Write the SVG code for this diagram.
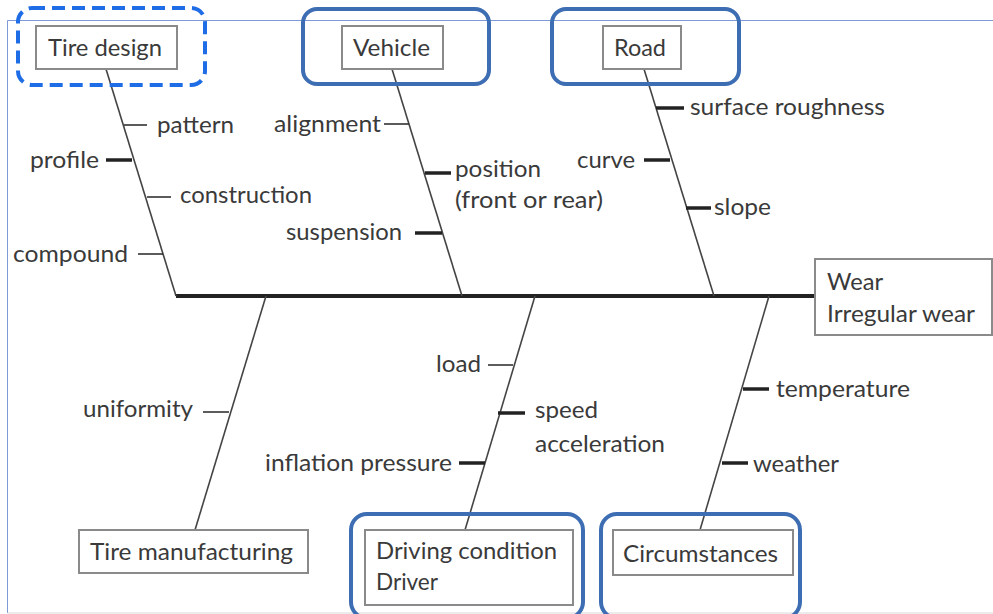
<svg xmlns="http://www.w3.org/2000/svg" width="993" height="614" viewBox="0 0 993 614">
<style>
text{font-family:Lato,"Open Sans","Liberation Sans",sans-serif;font-size:24px;fill:#3a3a3a}
.box{fill:#fff;stroke:#8a8a8a;stroke-width:2}
.hl{fill:none;stroke:#3d6db2;stroke-width:4}
.hld{fill:none;stroke:#1f6de6;stroke-width:4;stroke-dasharray:13 7}
.bone{stroke:#444;stroke-width:1.6;fill:none}
.tk{stroke:#333;stroke-width:1.6}
.tK{stroke:#222;stroke-width:3.5}
.frame{stroke:#7d9ad6;stroke-width:1;fill:none}
</style>
<rect width="993" height="614" fill="#fff"/>
<path class="frame" d="M993 20.5H7.5V613"/>
<line x1="7.5" y1="613" x2="993" y2="613" stroke="#d8d8d8" stroke-width="1"/>

<g id="connectors">
<line x1="176" y1="296" x2="815" y2="296" stroke="#222" stroke-width="4"/>
<line class="bone" x1="106" y1="69" x2="176" y2="296"/>
<line class="bone" x1="392" y1="69" x2="462" y2="296"/>
<line class="bone" x1="644" y1="69" x2="714" y2="296"/>
<line class="bone" x1="266" y1="296" x2="195" y2="530"/>
<line class="bone" x1="535" y1="296" x2="465" y2="530"/>
<line class="bone" x1="769" y1="296" x2="700" y2="530"/>
<line class="tk" x1="124" y1="125" x2="147" y2="125"/>
<line class="tK" x1="106" y1="160" x2="132" y2="160"/>
<line class="tk" x1="147" y1="197" x2="171" y2="197"/>
<line class="tk" x1="138" y1="254" x2="163" y2="254"/>
<line class="tk" x1="384" y1="124" x2="409" y2="124"/>
<line class="tK" x1="425" y1="173" x2="451" y2="173"/>
<line class="tK" x1="415" y1="233" x2="442" y2="233"/>
<line class="tK" x1="656" y1="108" x2="684" y2="108"/>
<line class="tK" x1="644" y1="160" x2="670" y2="160"/>
<line class="tK" x1="686" y1="208" x2="711" y2="208"/>
<line class="tk" x1="203" y1="412" x2="229" y2="412"/>
<line class="tk" x1="488" y1="365" x2="513" y2="365"/>
<line class="tK" x1="498" y1="413" x2="525" y2="413"/>
<line class="tK" x1="459" y1="463" x2="485" y2="463"/>
<line class="tK" x1="743" y1="389" x2="769" y2="389"/>
<line class="tK" x1="722" y1="463" x2="748" y2="463"/>
</g>

<g id="labels">
<text x="157" y="133" textLength="77" lengthAdjust="spacingAndGlyphs">pattern</text>
<text x="30" y="168" textLength="69" lengthAdjust="spacingAndGlyphs">profile</text>
<text x="180" y="203" textLength="132" lengthAdjust="spacingAndGlyphs">construction</text>
<text x="13" y="262" textLength="115" lengthAdjust="spacingAndGlyphs">compound</text>
<text x="274" y="132" textLength="107" lengthAdjust="spacingAndGlyphs">alignment</text>
<text x="455" y="177" textLength="86" lengthAdjust="spacingAndGlyphs">position</text>
<text x="455" y="208" textLength="148" lengthAdjust="spacingAndGlyphs">(front or rear)</text>
<text x="286" y="240" textLength="116" lengthAdjust="spacingAndGlyphs">suspension</text>
<text x="690" y="115" textLength="195" lengthAdjust="spacingAndGlyphs">surface roughness</text>
<text x="577" y="168" textLength="58" lengthAdjust="spacingAndGlyphs">curve</text>
<text x="714" y="215" textLength="57" lengthAdjust="spacingAndGlyphs">slope</text>
<text x="83" y="417" textLength="110" lengthAdjust="spacingAndGlyphs">uniformity</text>
<text x="436" y="372" textLength="45" lengthAdjust="spacingAndGlyphs">load</text>
<text x="535" y="418" textLength="63" lengthAdjust="spacingAndGlyphs">speed</text>
<text x="535" y="452" textLength="130" lengthAdjust="spacingAndGlyphs">acceleration</text>
<text x="265" y="471" textLength="187" lengthAdjust="spacingAndGlyphs">inflation pressure</text>
<text x="776" y="397" textLength="134" lengthAdjust="spacingAndGlyphs">temperature</text>
<text x="753" y="472" textLength="86" lengthAdjust="spacingAndGlyphs">weather</text>
</g>

<g id="tire-design">
<rect class="hld" x="18" y="8" width="187" height="77" rx="14"/>
<rect class="box" x="36" y="26" width="141" height="43"/>
<text x="48" y="56" textLength="114" lengthAdjust="spacingAndGlyphs">Tire design</text>
</g>
<g id="vehicle">
<rect class="hl" x="303" y="9" width="186" height="75" rx="14"/>
<rect class="box" x="342" y="26" width="101" height="43"/>
<text x="353" y="56" textLength="77" lengthAdjust="spacingAndGlyphs">Vehicle</text>
</g>
<g id="road">
<rect class="hl" x="552" y="9" width="187" height="75" rx="14"/>
<rect class="box" x="603" y="26" width="78" height="43"/>
<text x="614" y="56" textLength="52" lengthAdjust="spacingAndGlyphs">Road</text>
</g>
<g id="wear">
<rect class="box" x="815" y="259" width="177" height="76"/>
<text x="827" y="290" textLength="56" lengthAdjust="spacingAndGlyphs">Wear</text>
<text x="827" y="322" textLength="148" lengthAdjust="spacingAndGlyphs">Irregular wear</text>
</g>
<g id="tire-manufacturing">
<rect class="box" x="79" y="530" width="229" height="43"/>
<text x="90" y="560" textLength="203" lengthAdjust="spacingAndGlyphs">Tire manufacturing</text>
</g>
<g id="driving-condition">
<rect class="hl" x="351" y="514" width="232" height="104" rx="16"/>
<rect class="box" x="365" y="530" width="208" height="75"/>
<text x="376" y="559" textLength="181" lengthAdjust="spacingAndGlyphs">Driving condition</text>
<text x="376" y="590" textLength="62" lengthAdjust="spacingAndGlyphs">Driver</text>
</g>
<g id="circumstances">
<rect class="hl" x="601" y="514" width="199" height="104" rx="16"/>
<rect class="box" x="613" y="530" width="180" height="45"/>
<text x="623" y="562" textLength="155" lengthAdjust="spacingAndGlyphs">Circumstances</text>
</g>
</svg>
